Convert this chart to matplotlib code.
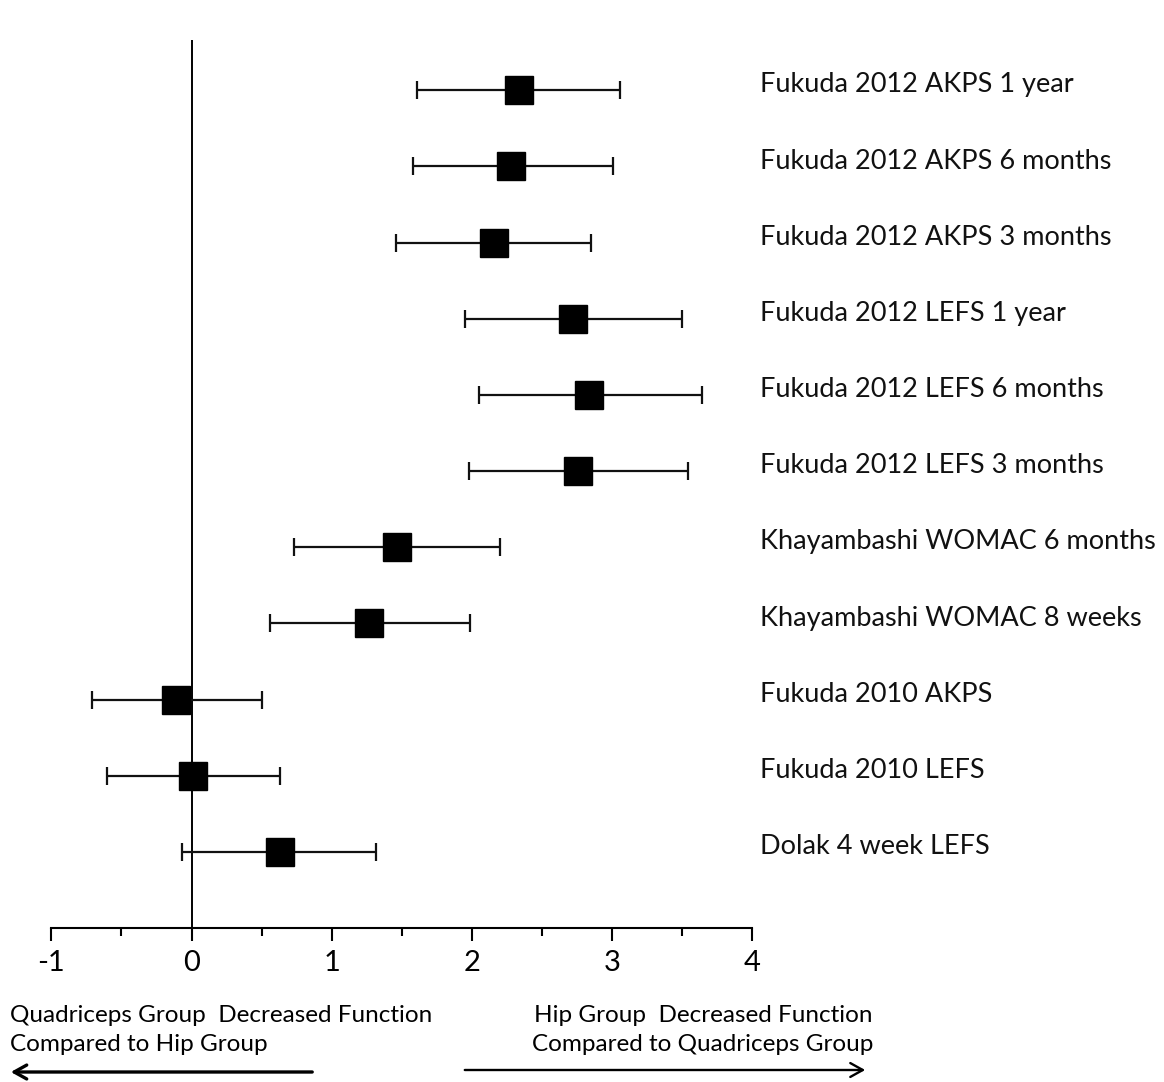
"""Forest plot: hip vs quadriceps group, function outcomes."""

import matplotlib

matplotlib.use("Agg")
import matplotlib.pyplot as plt
import numpy as np

# top to bottom
LABELS = [
    "Fukuda 2012 AKPS 1 year",
    "Fukuda 2012 AKPS 6 months",
    "Fukuda 2012 AKPS 3 months",
    "Fukuda 2012 LEFS 1 year",
    "Fukuda 2012 LEFS 6 months",
    "Fukuda 2012 LEFS 3 months",
    "Khayambashi WOMAC 6 months",
    "Khayambashi WOMAC 8 weeks",
    "Fukuda 2010 AKPS",
    "Fukuda 2010 LEFS",
    "Dolak 4 week LEFS",
]
EFFECT = [2.34, 2.28, 2.16, 2.72, 2.84, 2.76, 1.47, 1.27, -0.11, 0.01, 0.63]
CI_LOW = [1.61, 1.58, 1.46, 1.95, 2.05, 1.98, 0.73, 0.56, -0.71, -0.60, -0.07]
CI_HIGH = [3.06, 3.01, 2.85, 3.50, 3.64, 3.54, 2.20, 1.99, 0.50, 0.63, 1.32]

XTICKS = [-1, 0, 1, 2, 3, 4]
XTICK_LABELS = ["-1", "0", "1", "2", "3", "4"]
LEFT_NOTE = "Quadriceps Group  Decreased Function\nCompared to Hip Group"
RIGHT_NOTE = "Hip Group  Decreased Function\nCompared to Quadriceps Group"

plt.rcParams["font.family"] = ["Lato", "DejaVu Sans"]

W, H = 1164, 1082
fig = plt.figure(figsize=(W / 100, H / 100), dpi=100)
# axes spans -1..4 horizontally, 0..11.66 vertically (pixel-derived)
x0, x1 = 51.4, 752.0
ytop, ybot = 40.0, 928.0
ax = fig.add_axes([x0 / W, 1 - ybot / H, (x1 - x0) / W, (ybot - ytop) / H])

n = len(LABELS)
ypos = np.arange(n, 0, -1)
eff = np.array(EFFECT)
lo = eff - np.array(CI_LOW)
hi = np.array(CI_HIGH) - eff

ax.errorbar(eff, ypos, xerr=[lo, hi], fmt="none", ecolor="#111111",
            elinewidth=1.6, capsize=6.5, capthick=1.6, zorder=2)
ax.plot(eff, ypos, "s", color="black", ms=20, zorder=3)

for y, lab in zip(ypos, LABELS):
    ax.text(4.06, y + 0.07, lab, fontsize=19.5, va="center", ha="left",
            color="#111111", clip_on=False)

ax.axvline(0, color="black", lw=1.4, zorder=1)

ax.set_xlim(-1, 4)
ax.set_ylim(0, 11.66)
for s in ["top", "right", "left"]:
    ax.spines[s].set_visible(False)
ax.spines["bottom"].set_linewidth(1.5)
ax.set_yticks([])
ax.set_xticks(XTICKS)
ax.set_xticklabels(XTICK_LABELS)
ax.set_xticks(np.arange(-0.5, 4, 1.0), minor=True)
ax.tick_params(axis="x", which="major", direction="out", length=9,
               width=1.5, labelsize=21, pad=7)
ax.tick_params(axis="x", which="minor", direction="out", length=6, width=1.5)

# direction notes below the axis
fig.text(10 / W, 1 - 1030 / H, LEFT_NOTE, fontsize=17.5, ha="left",
         va="center", linespacing=1.42)
fig.text(873 / W, 1 - 1030 / H, RIGHT_NOTE, fontsize=17.5, ha="right",
         va="center", linespacing=1.42, multialignment="right")

fig.add_artist(matplotlib.patches.FancyArrowPatch(
    (315 / W, 1 - 1072 / H), (8 / W, 1 - 1072 / H),
    transform=fig.transFigure, arrowstyle="->,head_length=9,head_width=5",
    lw=2.4, color="black"))
fig.add_artist(matplotlib.patches.FancyArrowPatch(
    (462 / W, 1 - 1070 / H), (868 / W, 1 - 1070 / H),
    transform=fig.transFigure, arrowstyle="->,head_length=9,head_width=5",
    lw=1.7, color="black"))

fig.savefig("out.png", dpi=100, facecolor="white")
